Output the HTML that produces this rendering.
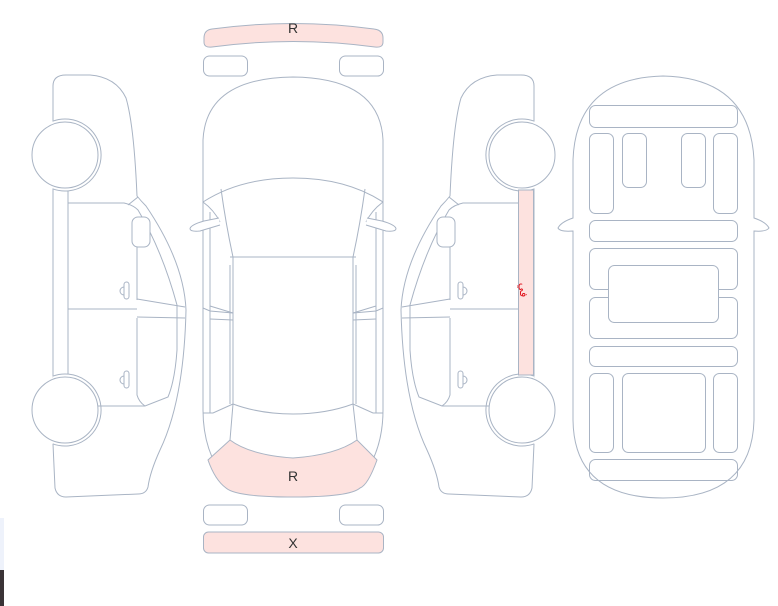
<!DOCTYPE html>
<html><head><meta charset="utf-8"><style>
html,body{margin:0;padding:0;background:#fff;width:778px;height:606px;overflow:hidden}
svg{display:block}
</style></head><body>
<svg width="778" height="606" viewBox="0 0 778 606" xmlns="http://www.w3.org/2000/svg" font-family="Liberation Sans, sans-serif">
<rect x="0" y="518" width="4" height="52" fill="#eef2fb"/>
<rect x="0" y="570" width="4" height="36" fill="#3a3336"/>
<defs>
<g id="side" fill="none" stroke="#a9b4c4" stroke-width="1">
  <path d="M53,122 L53,86 Q53,75 66,75 L90,75 Q116,77 126,98 Q134,125 137,196 Q141,201 146,206 Q184,262 186,310 Q184,400 160,450 Q150,472 148,487 Q146,494 138,494 L66,497 Q57,497 55,488 L53,444" fill="#fff"/>
  <path d="M53,188 L53,378 M68,190 L68,378"/>
  <path d="M52.7,121.2 A36,36 0 1 1 52.7,188.8" fill="#fff"/>
  <circle cx="65" cy="155" r="33" fill="#fff"/>
  <path d="M52.7,376.2 A36,36 0 1 1 52.7,443.8" fill="#fff"/>
  <circle cx="65" cy="410" r="33" fill="#fff"/>
  <path d="M68,203 L124,203 Q133,205 138,210 Q162,250 177,305 L177,350 Q175,380 168,397 L145,406 L98,406"/>
  <path d="M128,205 L138,197"/>
  <path d="M137,218 L137,300 M137,318 L137,395 Q139,402 145,406"/>
  <path d="M68,309 L137,309"/>
  <path d="M137,299 L185,307 M137,317 L185,318"/>
  <rect x="132" y="217" width="18" height="30" rx="6" fill="#fff"/>
  <rect x="124" y="282" width="5" height="17" rx="2.5"/>
  <path d="M124,287 A4,4 0 0 0 124,295"/>
  <rect x="124" y="371" width="5" height="17" rx="2.5"/>
  <path d="M124,376 A4,4 0 0 0 124,384"/>
</g>
</defs>
<use href="#side"/>
<g transform="translate(587,0) scale(-1,1)"><use href="#side"/></g>
<rect x="518.5" y="190" width="15" height="185" fill="#fde2df" stroke="#a9b4c4"/>
<text x="0" y="0" transform="translate(520,290) rotate(90)" font-family="Liberation Sans, Noto Sans CJK SC, DejaVu Sans, sans-serif" font-size="11" fill="#e0101a" text-anchor="middle">في</text>

<g fill="none" stroke="#a9b4c4" stroke-width="1">
  <path d="M204,38 Q204,30 212,29 Q293,18 374,29 Q383,30 383,38 L383,42 Q383,48 375,47 Q293,36 212,47 Q204,48 204,42 Z" fill="#fde2df"/>
  <rect x="203.5" y="56" width="44" height="20" rx="6"/>
  <rect x="339.5" y="56" width="44" height="20" rx="6"/>
  <path d="M203,410 L203,140 Q206,78 293,77 Q380,78 383,140 L383,410 Q383,452 360,480 Q350,497 293,497 Q236,497 226,480 Q203,452 203,410 Z"/>
  <path d="M208,460 L230,440 Q250,455 293,458 Q336,455 357,440 L377,460 Q368,485 360,488 Q350,497 293,497 Q236,497 226,488 Q215,480 208,460 Z" fill="#fde2df"/>
  <path d="M203,202 Q240,178 293,178 Q346,178 383,202"/>
  <path d="M203,202 Q214,210 220,222 M383,202 Q372,210 366,222"/>
  <path d="M221,189 Q226,225 233,257 M365,189 Q360,225 353,257"/>
  <path d="M210,212 L210,413 M376,212 L376,413"/>
  <path d="M230,257 L356,257"/>
  <path d="M233,257 L233,404 M230,265 L230,404 M353,257 L353,404 M356,265 L356,404"/>
  <path d="M233,404 Q260,414 293,414 Q326,414 353,404"/>
  <path d="M233,404 L230,440 M353,404 L357,440"/>
  <path d="M203,413 L213,413 L233,404 M383,413 L373,413 L353,404"/>
  <path d="M203,308 L210,311 L233,313 M210,319 L233,320 M383,308 L376,311 L353,313 M376,319 L353,320"/>
  <path d="M210,306 L233,313 M376,306 L353,313"/>
  <path d="M219,218 L204,221 Q190,225 190,229 Q191,232 200,231 L220,225" fill="#fff"/>
  <path d="M367,218 L382,221 Q396,225 396,229 Q395,232 386,231 L366,225" fill="#fff"/>
  <rect x="203.5" y="505" width="44" height="20" rx="6"/>
  <rect x="339.5" y="505" width="44" height="20" rx="6"/>
  <rect x="203.5" y="532" width="180" height="21" rx="5" fill="#fde2df"/>
</g>
<text x="293" y="33" font-size="14" fill="#333" text-anchor="middle">R</text>
<text x="293" y="481" font-size="14" fill="#333" text-anchor="middle">R</text>
<text x="293" y="548" font-size="14" fill="#333" text-anchor="middle">X</text>

<g fill="none" stroke="#a9b4c4" stroke-width="1">
  <path d="M573,218 L573,160 Q576,78 663,76 Q750,78 754,160 L754,218 Q766,222 769,228 Q766,232 754,231 L754,420 Q752,498 663,498 Q574,498 573,420 L573,231 Q560,232 558,228 Q561,222 573,218 Z"/>
  <rect x="589.5" y="105.5" width="148" height="22" rx="6"/>
  <rect x="589.5" y="133.5" width="24" height="80" rx="6"/>
  <rect x="622.5" y="133.5" width="24" height="54" rx="6"/>
  <rect x="681.5" y="133.5" width="24" height="54" rx="6"/>
  <rect x="713.5" y="133.5" width="24" height="80" rx="6"/>
  <rect x="589.5" y="220.5" width="148" height="21" rx="6"/>
  <rect x="589.5" y="248.5" width="148" height="41" rx="6"/>
  <rect x="589.5" y="297.5" width="148" height="41" rx="6"/>
  <rect x="608.5" y="265.5" width="110" height="57" rx="6" fill="#fff"/>
  <rect x="589.5" y="346.5" width="148" height="20" rx="6"/>
  <rect x="589.5" y="373.5" width="24" height="79" rx="6"/>
  <rect x="622.5" y="373.5" width="83" height="79" rx="6"/>
  <rect x="713.5" y="373.5" width="24" height="79" rx="6"/>
  <rect x="589.5" y="459.5" width="148" height="21" rx="6"/>
</g>
</svg>
</body></html>
